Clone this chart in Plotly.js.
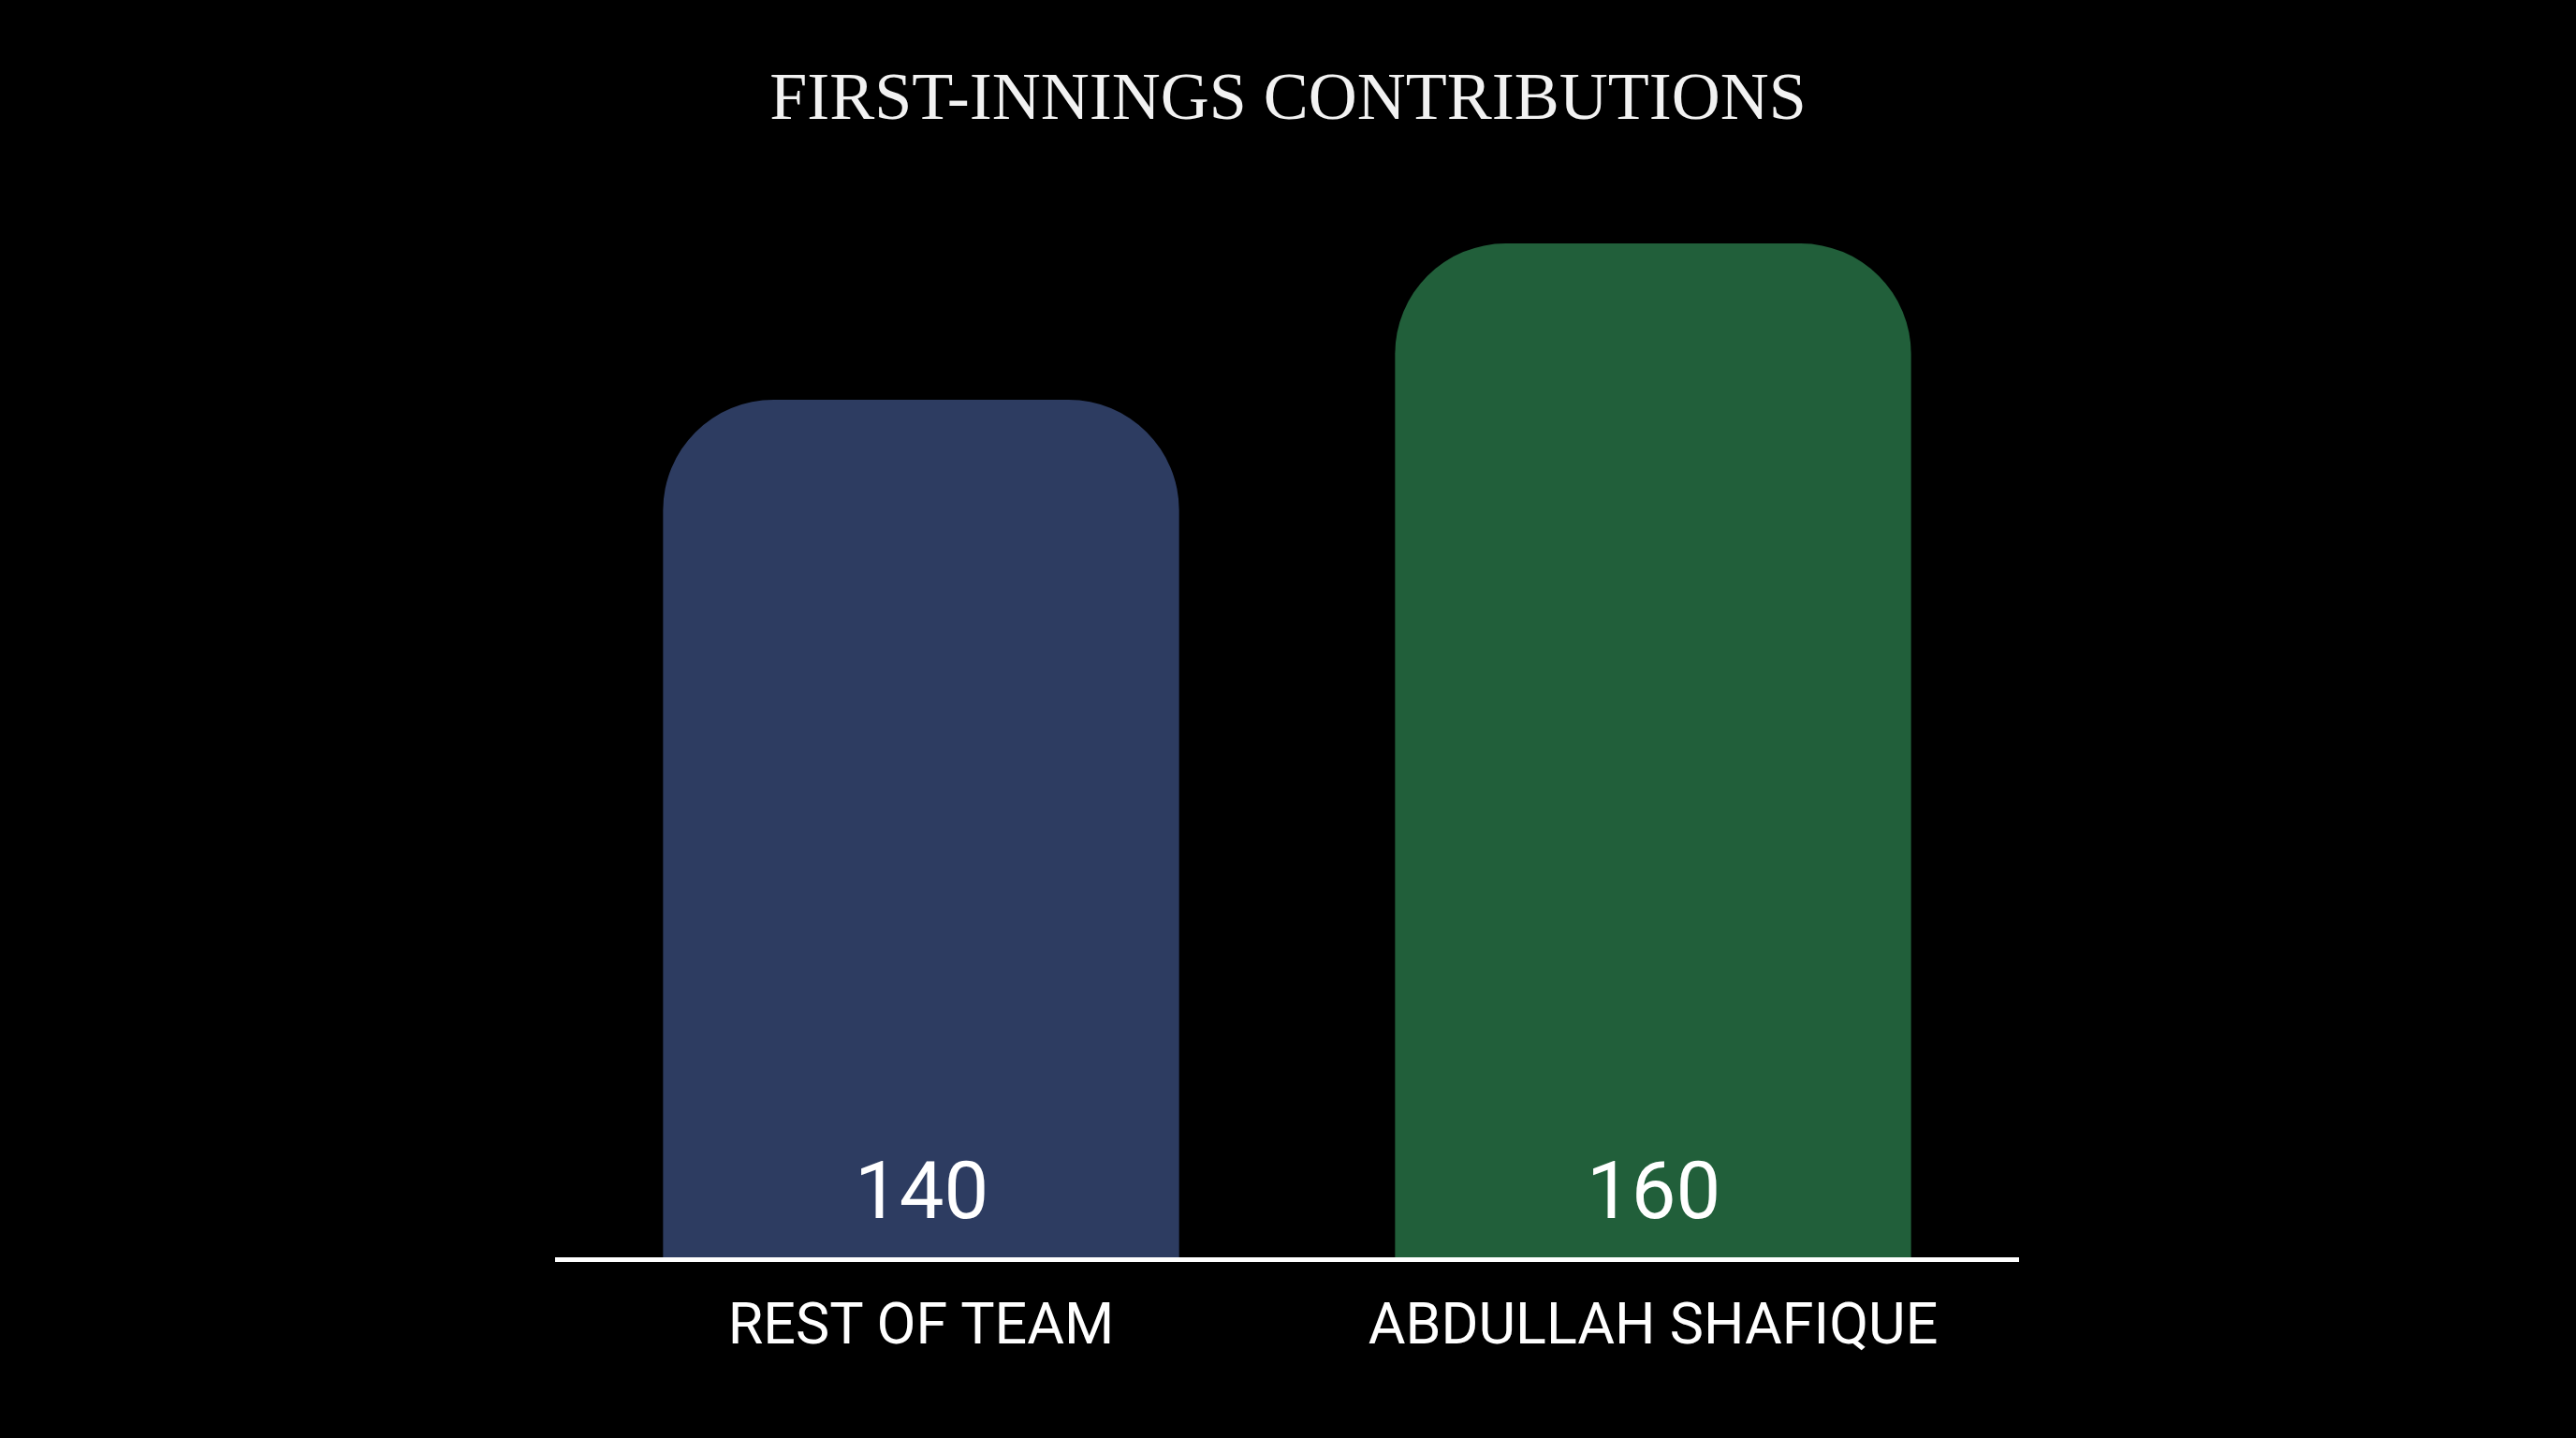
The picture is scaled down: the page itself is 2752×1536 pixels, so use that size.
<!DOCTYPE html>
<html>
<head>
<meta charset="utf-8">
<script src="https://cdn.plot.ly/plotly-3.0.1.min.js"></script>
<style>
  html, body { margin: 0; padding: 0; background: #000; }
  #chart { width: 2752px; height: 1536px; }
</style>
</head>
<body>
<div id="chart"></div>
<script>
// data
const players = ['REST OF TEAM', 'ABDULLAH SHAFIQUE'];
const runs = [140, 160];
const barColors = ['#2d3c61', '#215f3a'];
const chartTitle = 'FIRST-INNINGS CONTRIBUTIONS';

const chart = document.getElementById('chart');

const traces = [
  {
    type: 'bar',
    x: players,
    y: runs,
    width: 0.705,
    hoverinfo: 'skip',
    marker: {
      color: barColors,
      cornerradius: 118,
      line: { width: 0 },
    },
  },
];

// value labels sit near the foot of each bar
const valueLabels = players.map((p, i) => ({
  x: p,
  y: 0,
  xref: 'x',
  yref: 'paper',
  yanchor: 'bottom',
  yshift: 19,
  text: String(runs[i]),
  showarrow: false,
  font: { family: 'Roboto, sans-serif', size: 85, color: '#ffffff' },
}));

const layout = {
  width: 2752,
  height: 1536,
  paper_bgcolor: '#000000',
  plot_bgcolor: '#000000',
  margin: { l: 593, r: 595, t: 200, b: 193 },
  showlegend: false,
  title: {
    text: chartTitle,
    x: 0.5,
    xanchor: 'center',
    yref: 'container',
    y: 0.9336,
    yanchor: 'middle',
    font: { family: '"Liberation Serif", "DejaVu Serif", serif', size: 72, color: '#f2f2f2' },
  },
  xaxis: {
    type: 'category',
    range: [-0.5, 1.5],
    showline: true,
    linecolor: '#ffffff',
    linewidth: 5,
    showgrid: false,
    zeroline: false,
    ticks: '',
    ticklabelstandoff: 14,
    tickfont: { family: 'Roboto, sans-serif', size: 61, color: '#ffffff' },
  },
  yaxis: {
    range: [30.3, 167.2],
    visible: false,
    showgrid: false,
    zeroline: false,
  },
  annotations: valueLabels,
};

Plotly.newPlot(chart, traces, layout, { staticPlot: true, displayModeBar: false });
</script>
</body>
</html>
